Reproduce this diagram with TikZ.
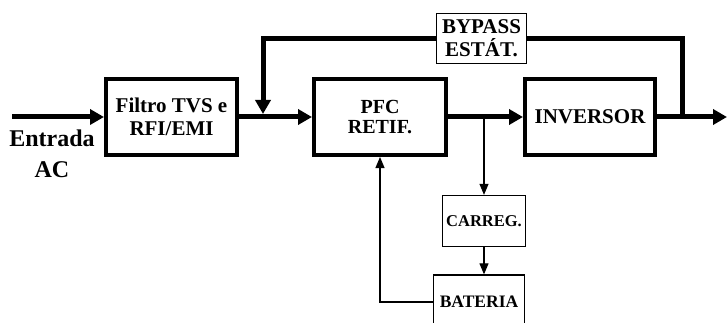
\documentclass[tikz,border=0pt]{standalone}
\usepackage{fontspec}
\setmainfont{Liberation Serif}
\usetikzlibrary{arrows.meta,positioning,calc}

\begin{document}
\begin{tikzpicture}[x=1pt,y=-1pt,
    bloco/.style={draw,line width=4pt,minimum width=131pt,minimum height=76pt,
      align=center,inner sep=0pt,font=\bfseries\fontsize{21}{23}\selectfont},
    caixa/.style={draw,line width=1.3pt,align=center,inner sep=0pt,
      font=\bfseries\fontsize{17.5}{23}\selectfont},
    forte/.style={line width=5pt,-{Triangle[length=14pt,width=15pt]}},
    fino/.style={line width=1.1pt,-{Triangle[length=11pt,width=9pt]}}]
  \useasboundingbox (0,0) rectangle (727,323);

  % blocos principais
  \node[bloco] (filtro) at (171.5,117) {Filtro TVS e\\RFI/EMI};
  \node[bloco,minimum width=132pt,font=\bfseries\fontsize{20}{19.5}\selectfont]
      (pfc) at (380,117) {PFC\\RETIF.};
  \node[bloco,minimum width=130pt] (inversor) at (590,117) {INVERSOR};
  \node[caixa,minimum width=90pt,minimum height=50pt,font=\bfseries\fontsize{21}{23}\selectfont]
      (bypass) at (481.5,38.5) {BYPASS\\EST\'AT.};
  \node[caixa,minimum width=83pt,minimum height=51pt,font=\bfseries\fontsize{16.5}{23}\selectfont]
      (carreg) at (484,221) {CARREG.};
  \node[caixa,minimum width=91pt,minimum height=54pt] (bateria) at (479,302) {BATERIA};
  \node[align=center,font=\bfseries\fontsize{24}{31}\selectfont] (entrada) at (52,154) {Entrada\\AC};

  \coordinate (in) at (12,117);
  \coordinate (out) at (727,117);
  \coordinate (jb) at (263,114);
  \coordinate (tap) at (682,117);
  \coordinate (ramo) at (484,117);

  % caminho de potencia
  \draw[forte] (in) -- (filtro.west);
  \draw[forte] (filtro.east) -- (pfc.west);
  \draw[forte] (pfc.east) -- (inversor.west);
  \draw[forte] (inversor.east) -- (out);
  \draw[line width=5pt] (tap) |- (bypass.east);
  \draw[forte] (bypass.west) -| (jb);

  % ramo da bateria
  \draw[fino] (ramo) -- (carreg.north);
  \draw[fino] (carreg.south) -- (carreg.south |- bateria.north);
  \draw[fino] (bateria.west) -| (pfc.south);
\end{tikzpicture}
\end{document}
